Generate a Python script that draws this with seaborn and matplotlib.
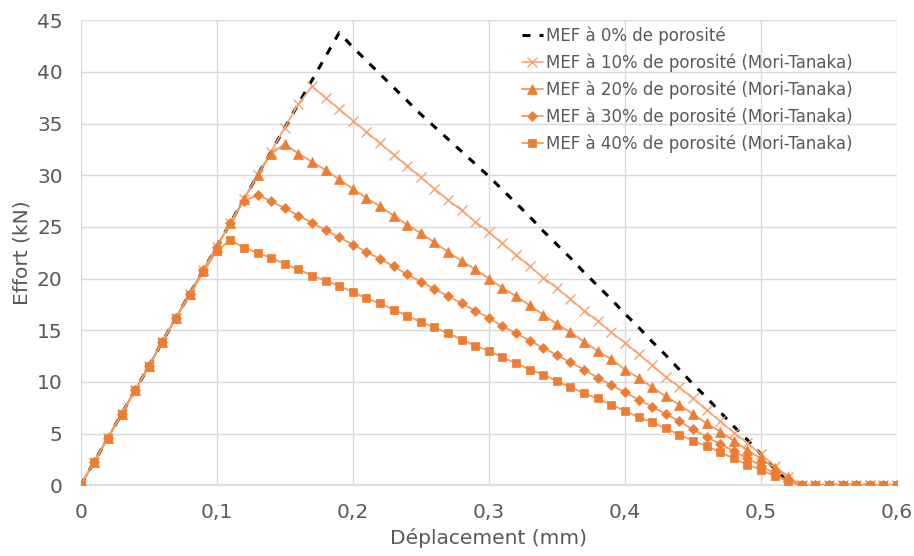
import pandas as pd
import matplotlib
matplotlib.use("Agg")
import matplotlib.pyplot as plt
import seaborn as sns

# déplacement (mm), un point tous les 0,01 mm
deplacement = [0.00, 0.01, 0.02, 0.03, 0.04, 0.05, 0.06, 0.07, 0.08, 0.09,
               0.10, 0.11, 0.12, 0.13, 0.14, 0.15, 0.16, 0.17, 0.18, 0.19,
               0.20, 0.21, 0.22, 0.23, 0.24, 0.25, 0.26, 0.27, 0.28, 0.29,
               0.30, 0.31, 0.32, 0.33, 0.34, 0.35, 0.36, 0.37, 0.38, 0.39,
               0.40, 0.41, 0.42, 0.43, 0.44, 0.45, 0.46, 0.47, 0.48, 0.49,
               0.50, 0.51, 0.52, 0.53, 0.54, 0.55, 0.56, 0.57, 0.58, 0.59,
               0.60]

# effort (kN)
mef_0 = [0, 2.3, 4.6, 6.9, 9.2, 11.5, 13.9, 16.2, 18.5, 20.8,
         23.1, 25.4, 27.7, 30.0, 32.3, 34.6, 36.9, 39.2, 41.5, 43.8,
         42.4, 41.1, 39.8, 38.5, 37.2, 35.9, 34.7, 33.5, 32.3, 31.1,
         29.9, 28.6, 27.3, 26.0, 24.6, 23.3, 22.0, 20.6, 19.3, 18.0,
         16.6, 15.3, 13.9, 12.6, 11.2, 9.8, 8.5, 7.1, 5.7, 4.4,
         3.0, 1.6, 0.3, 0, 0, 0, 0, 0, 0, 0,
         0]
mef_10 = [0, 2.3, 4.6, 6.9, 9.2, 11.5, 13.9, 16.2, 18.5, 20.8,
          23.1, 25.4, 27.7, 30.0, 32.3, 34.6, 36.9, 38.6, 37.5, 36.4,
          35.3, 34.2, 33.1, 32.0, 30.9, 29.8, 28.7, 27.6, 26.6, 25.5,
          24.5, 23.4, 22.3, 21.2, 20.1, 19.1, 18.0, 16.9, 15.9, 14.8,
          13.8, 12.7, 11.6, 10.5, 9.5, 8.4, 7.3, 6.2, 5.1, 4.1,
          3.0, 1.9, 0.8, 0, 0, 0, 0, 0, 0, 0,
          0]
mef_20 = [0, 2.3, 4.6, 6.9, 9.2, 11.5, 13.9, 16.2, 18.5, 20.8,
          23.1, 25.4, 27.7, 30.0, 32.1, 33.0, 32.1, 31.3, 30.5, 29.6,
          28.7, 27.8, 27.0, 26.1, 25.2, 24.4, 23.5, 22.6, 21.7, 20.9,
          20.0, 19.1, 18.3, 17.4, 16.5, 15.6, 14.8, 13.9, 13.0, 12.2,
          11.2, 10.4, 9.5, 8.6, 7.8, 6.9, 6.0, 5.2, 4.3, 3.4,
          2.6, 1.7, 0.8, 0, 0, 0, 0, 0, 0, 0,
          0]
mef_30 = [0, 2.3, 4.6, 6.9, 9.2, 11.5, 13.9, 16.2, 18.5, 20.8,
          23.1, 25.4, 27.5, 28.1, 27.5, 26.8, 26.1, 25.4, 24.7, 24.0,
          23.3, 22.6, 21.9, 21.2, 20.4, 19.7, 19.0, 18.3, 17.6, 16.9,
          16.2, 15.4, 14.7, 14.0, 13.3, 12.6, 11.9, 11.2, 10.4, 9.7,
          9.0, 8.3, 7.6, 6.9, 6.2, 5.4, 4.7, 4.0, 3.3, 2.6,
          1.9, 1.1, 0.4, 0, 0, 0, 0, 0, 0, 0,
          0]
mef_40 = [0, 2.3, 4.6, 6.9, 9.2, 11.5, 13.9, 16.2, 18.4, 20.6,
          22.7, 23.7, 23.0, 22.5, 22.0, 21.4, 20.9, 20.3, 19.8, 19.3,
          18.7, 18.1, 17.6, 17.0, 16.4, 15.8, 15.3, 14.7, 14.1, 13.5,
          13.0, 12.4, 11.8, 11.2, 10.7, 10.1, 9.5, 8.9, 8.4, 7.8,
          7.2, 6.6, 6.1, 5.5, 4.9, 4.3, 3.8, 3.2, 2.6, 2.0,
          1.5, 0.9, 0.4, 0, 0, 0, 0, 0, 0, 0,
          0]

labels = ["MEF à 0% de porosité",
          "MEF à 10% de porosité (Mori-Tanaka)",
          "MEF à 20% de porosité (Mori-Tanaka)",
          "MEF à 30% de porosité (Mori-Tanaka)",
          "MEF à 40% de porosité (Mori-Tanaka)"]

x_ticks = [0, 0.1, 0.2, 0.3, 0.4, 0.5, 0.6]
x_tick_labels = ["0", "0,1", "0,2", "0,3", "0,4", "0,5", "0,6"]
y_ticks = [0, 5, 10, 15, 20, 25, 30, 35, 40, 45]

df = pd.DataFrame({"x": deplacement, "m0": mef_0, "m10": mef_10,
                   "m20": mef_20, "m30": mef_30, "m40": mef_40})

sns.set_style("white")
plt.rcParams["font.family"] = ["DejaVu Sans"]

orange = "#ED7D31"
orange_clair = "#F29A5E"
orange_x = "#F4A472"
gris = "#595959"

fig = plt.figure(figsize=(9.14, 5.56), dpi=100)
ax = fig.add_axes([0.0883, 0.1272, 0.8931, 0.8363])

sns.lineplot(data=df, x="x", y="m0", ax=ax, color="black", linewidth=2.2,
             errorbar=None, label=labels[0], zorder=2)
sns.lineplot(data=df, x="x", y="m10", ax=ax, color=orange_x, linewidth=1.2,
             errorbar=None, label=labels[1], zorder=3)
sns.lineplot(data=df, x="x", y="m20", ax=ax, color=orange_clair, linewidth=1.3,
             errorbar=None, label=labels[2], zorder=4)
sns.lineplot(data=df, x="x", y="m30", ax=ax, color=orange_clair, linewidth=1.3,
             errorbar=None, label=labels[3], zorder=5)
sns.lineplot(data=df, x="x", y="m40", ax=ax, color=orange_clair, linewidth=1.3,
             errorbar=None, label=labels[4], zorder=6)

# styles des traits et marqueurs (façon Excel)
l0, l10, l20, l30, l40 = ax.lines[:5]
l0.set_linestyle((0, (2.6, 3.0)))
l0.set_dash_capstyle("butt")
l10.set_marker("x")
l10.set_markersize(7.5)
l10.set_markeredgewidth(1.0)
l10.set_markeredgecolor(orange_x)
for ln, mk, ms in [(l20, "^", 7.5), (l30, "D", 5.0), (l40, "s", 6.3)]:
    ln.set_marker(mk)
    ln.set_markersize(ms)
    ln.set_markerfacecolor(orange)
    ln.set_markeredgecolor(orange)
    ln.set_markeredgewidth(0.5)

ax.set_xlim(0, 0.6)
ax.set_ylim(0, 45)
ax.set_xticks(x_ticks)
ax.set_xticklabels(x_tick_labels)
ax.set_yticks(y_ticks)
ax.grid(True, color="#D9D9D9", linewidth=1.0)
ax.set_axisbelow(True)
for s in ["top", "right", "left"]:
    ax.spines[s].set_visible(False)
ax.spines["bottom"].set_color("#D9D9D9")
ax.spines["bottom"].set_linewidth(1.2)
ax.tick_params(axis="both", length=0, labelsize=14.5, labelcolor=gris)
ax.tick_params(axis="x", pad=13)
ax.tick_params(axis="y", pad=13)

ax.set_xlabel("Déplacement (mm)", fontsize=14.5, color=gris, labelpad=4)
ax.set_ylabel("Effort (kN)", fontsize=14.5, color=gris, labelpad=4)

leg = ax.legend(handles=[l0, l10, l20, l30, l40], labels=labels,
                loc="upper left", bbox_to_anchor=(0.54, 0.986), frameon=False,
                fontsize=12, handlelength=1.3, handletextpad=0.15,
                borderpad=0, borderaxespad=0, labelspacing=0.5)
for t in leg.get_texts():
    t.set_color(gris)

plt.savefig("out.png", dpi=100)
